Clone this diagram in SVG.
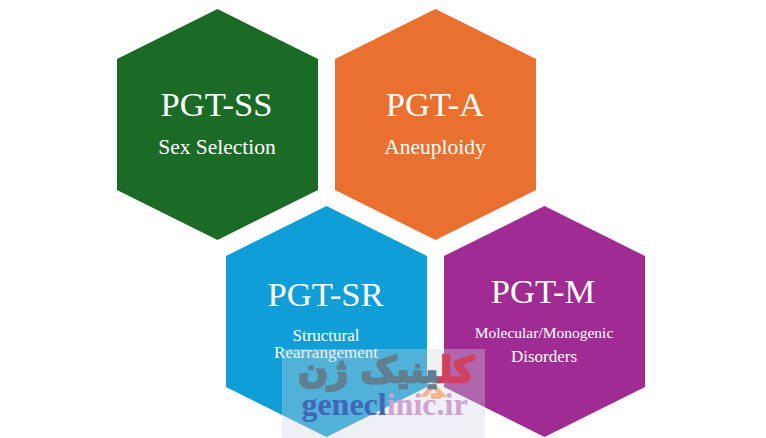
<svg xmlns="http://www.w3.org/2000/svg" width="766" height="438" viewBox="0 0 766 438">
<style>
.t{font-family:"Liberation Serif","Times New Roman",serif;fill:#fff;text-anchor:middle}
.h{font-size:34.6px}
.s{font-size:21.5px}
.x{font-size:17px}
.m{font-size:15.5px}
</style>
<rect width="766" height="438" fill="#fff"/>
<g id="pgt-ss"><polygon points="217.5,9 318,59 318,190 217.5,240 117,190 117,59" fill="#1b6b26"/><text class="t h" x="216.5" y="116">PGT-SS</text><text class="t s" x="217" y="154">Sex Selection</text></g>
<g id="pgt-a"><polygon points="435.5,9 536,59 536,190 435.5,240 335,190 335,59" fill="#ea7030"/><text class="t h" x="435" y="116">PGT-A</text><text class="t s" x="435" y="154">Aneuploidy</text></g>
<g id="pgt-sr"><polygon points="326.5,206 427,256 427,387 326.5,437 226,387 226,256" fill="#0f9ed8"/><text class="t h" x="325.5" y="306">PGT-SR</text><text class="t x" x="326" y="341">Structural</text><text class="t x" x="326" y="358">Rearrangement</text></g>
<g id="pgt-m"><polygon points="544.5,206 645,256 645,387 544.5,437 444,387 444,256" fill="#a02b93"/><text class="t h" x="543" y="303">PGT-M</text><text class="t m" x="544" y="338">Molecular/Monogenic</text><text class="t x" x="544" y="362">Disorders</text></g>
<g id="connectors"></g>
<g id="watermark">
<rect x="282" y="349" width="203" height="89" fill="#ced4dd" fill-opacity="0.35"/>
<polygon points="420,397 433,382 447,397 441,397 433,389 426,397" fill="#f6b48f"/>
<rect x="431" y="393" width="10" height="6" fill="#f6b48f"/>
<text x="386" y="382" font-family="'DejaVu Sans',sans-serif" font-weight="700" font-size="35" fill="#607f90" stroke="#607f90" stroke-width="2.4" text-anchor="middle" direction="rtl"><tspan fill="#d0405f" stroke="#d0405f">کل</tspan>ینیک ژن</text>
<text x="384.5" y="415" font-family="'Liberation Serif',serif" font-weight="700" font-size="32" text-anchor="middle" fill="#3f66b8">gene<tspan>cl</tspan><tspan fill="#cfa3d3">inic.ir</tspan></text>
</g>
</svg>
